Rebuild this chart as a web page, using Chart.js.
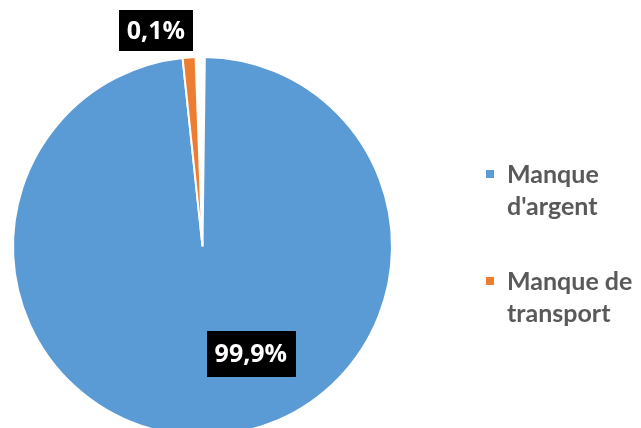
<!DOCTYPE html>
<html lang="fr">
<head>
<meta charset="UTF-8">
<title>Manque</title>
<script src="https://cdn.jsdelivr.net/npm/chart.js@4/dist/chart.umd.min.js"></script>
<style>
body { margin: 0; background: #fff; overflow: hidden; }
#outer { position: relative; width: 641px; height: 428px; overflow: hidden; }
#chart { position: absolute; left: 0; top: 0; }
.item { position: absolute; left: 486px; font-family: Lato, sans-serif; font-weight: bold;
	font-size: 25px; line-height: 32px; color: #595959; white-space: nowrap; }
.item span.box { position: absolute; left: 0; width: 8px; height: 8px; }
.item div { margin-left: 21px; }
</style>
</head>
<body>
<div id="outer">
	<canvas id="chart" width="641" height="450"></canvas>
	<div id="legend"></div>
</div>
<script type="text/javascript">
// categories and values (slice sizes as drawn, shown labels as printed)
const categories = ["Manque d'argent", "Manque de transport"];
const legendLines = [["Manque", "d'argent"], ["Manque de", "transport"]];
const values = [98.9, 1.1];
const valueLabels = ["99,9%", "0,1%"];
const colors = ['#5B9BD5', '#ED7D31'];

// label boxes, placed around the arc centre (angle in degrees, distance as part of radius)
const placing = [
	{ angle: 65.7, dist: 0.62 },
	{ angle: -102.2, dist: 1.165 }
];

const boxLabels = {
	id: 'boxLabels',
	afterDatasetsDraw(chart) {
		var ctx = chart.ctx;
		var meta = chart.getDatasetMeta(0);
		ctx.save();
		ctx.font = 'bold 25px "Open Sans"';
		ctx.textAlign = 'center';
		ctx.textBaseline = 'middle';
		meta.data.forEach(function (arc, i) {
			var p = placing[i];
			var a = p.angle * Math.PI / 180;
			var r = arc.outerRadius * p.dist;
			var x = arc.x + Math.cos(a) * r;
			var y = arc.y + Math.sin(a) * r;
			var w = ctx.measureText(valueLabels[i]).width + 16;
			var h = i == 0 ? 46 : 41;
			ctx.fillStyle = '#000';
			ctx.fillRect(Math.round(x - w / 2), Math.round(y - h / 2), Math.round(w), h);
			ctx.fillStyle = '#fff';
			ctx.fillText(valueLabels[i], x, y + 1);
		});
		ctx.restore();
	}
};

new Chart(document.getElementById('chart'), {
	type: 'pie',
	data: {
		labels: categories,
		datasets: [{
			data: values,
			backgroundColor: colors,
			borderColor: '#fff',
			borderWidth: 2
		}]
	},
	options: {
		responsive: false,
		animation: false,
		rotation: 0.7,
		circumference: 357.2,
		layout: { padding: { left: 12, right: 248, top: 56, bottom: 13 } },
		plugins: {
			legend: { display: false },
			tooltip: { enabled: false }
		}
	},
	plugins: [boxLabels]
});

// legend on the right
var legend = document.getElementById('legend');
var tops = [157, 264];
legendLines.forEach(function (lines, i) {
	var item = document.createElement('div');
	item.className = 'item';
	item.style.top = tops[i] + 'px';
	var box = document.createElement('span');
	box.className = 'box';
	box.style.background = colors[i];
	box.style.top = '13px';
	item.appendChild(box);
	var txt = document.createElement('div');
	txt.innerHTML = lines.join('<br>');
	item.appendChild(txt);
	legend.appendChild(item);
});
</script>
</body>
</html>
